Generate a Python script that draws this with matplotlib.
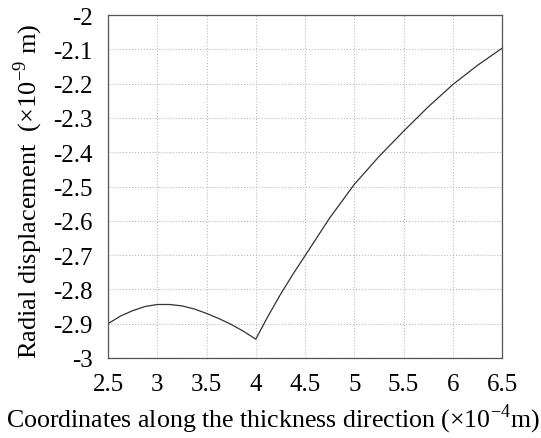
import numpy as np
import matplotlib
matplotlib.use("Agg")
import matplotlib.pyplot as plt

plt.rcParams['font.family'] = ['Liberation Serif', 'DejaVu Serif']
plt.rcParams['mathtext.fontset'] = 'custom'
plt.rcParams['mathtext.rm'] = 'Liberation Serif'
plt.rcParams['axes.unicode_minus'] = False

# coordinate along the thickness (x1e-4 m) and radial displacement (x1e-9 m)
x_vals = [2.5, 2.625, 2.75, 2.875, 3.0, 3.125, 3.25, 3.375, 3.5, 3.625, 3.75, 3.875, 4.0,
          4.125, 4.25, 4.375, 4.5, 4.75, 5.0, 5.25, 5.5, 5.75, 6.0, 6.25, 6.5]
u_vals = [-2.900, -2.878, -2.862, -2.850, -2.844, -2.844, -2.848, -2.857, -2.870, -2.885, -2.902, -2.922, -2.945,
          -2.878, -2.815, -2.757, -2.702, -2.592, -2.494, -2.413, -2.339, -2.268, -2.203, -2.147, -2.097]

x_ticks = [2.5, 3, 3.5, 4, 4.5, 5, 5.5, 6, 6.5]
y_ticks = [-3, -2.9, -2.8, -2.7, -2.6, -2.5, -2.4, -2.3, -2.2, -2.1, -2]

fig = plt.figure(figsize=(5.41, 4.39), dpi=100)
ax = fig.add_axes([108/541, 1 - 359/439, (502-108)/541, (359-16)/439])

ax.plot(x_vals, u_vals, color='#333333', lw=0.9)

ax.set_xlim(2.5, 6.5)
ax.set_ylim(-3, -2)
ax.set_xticks(x_ticks)
ax.set_xticklabels([f'{t:g}' for t in x_ticks])
ax.set_yticks(y_ticks)
ax.set_yticklabels([f'{t:g}' for t in y_ticks])
ax.tick_params(axis='x', length=0, labelsize=18, pad=11)
ax.tick_params(axis='y', length=0, labelsize=18, pad=11)
for lbl in ax.get_yticklabels():
    lbl.set_va('center_baseline')
ax.grid(True, color='#bbbbbb', linestyle=':', linewidth=0.8)
for s in ax.spines.values():
    s.set_color('#555555')
    s.set_linewidth(0.9)

fig.text(273/541, 1 - 419/439, r'Coordinates along the thickness direction (×10$^{-4}$m)',
         fontsize=18.6, ha='center', va='center')
fig.text(28/541, 1 - 191/439, r'Radial displacement  (×10$^{-9}$ m)',
         fontsize=19, ha='center', va='center', rotation=90)

fig.savefig('out.png', dpi=100)
